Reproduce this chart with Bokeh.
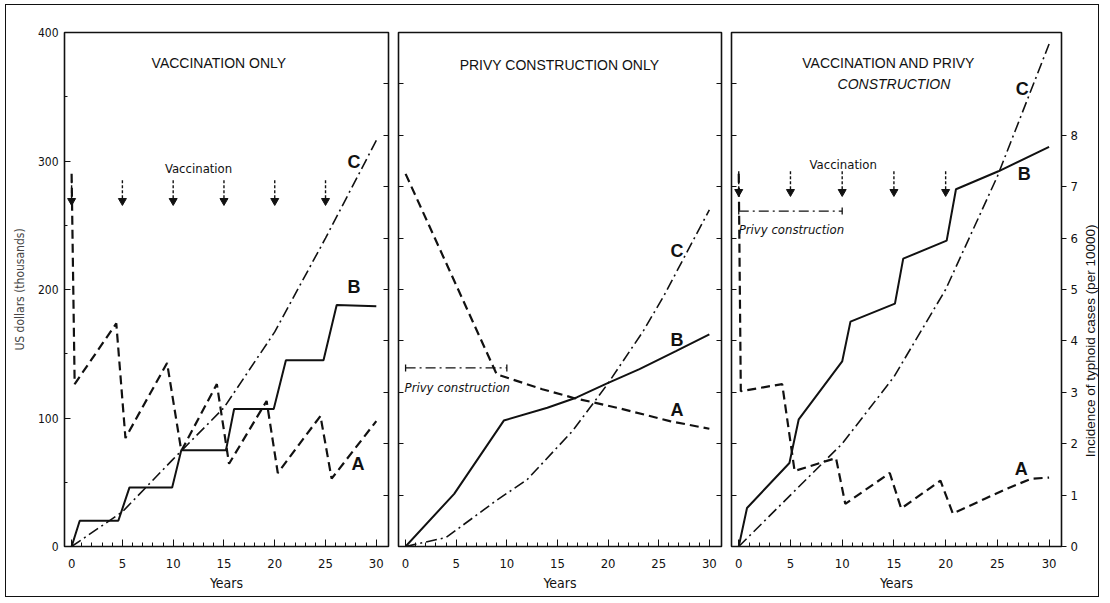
from bokeh.plotting import figure
from bokeh.layouts import row
from bokeh.models import Range1d, LinearAxis, FixedTicker, CustomJSTickFormatter, Label
from bokeh.embed import file_html
from bokeh.resources import INLINE
import math

# ---------------- data ----------------
year_ticks = [0, 5, 10, 15, 20, 25, 30]
dollar_ticks = [0, 100, 200, 300, 400]
incidence_ticks = [0, 1, 2, 3, 4, 5, 6, 7, 8]

# Panel 1: vaccination only
vac_A_x = [0, 0.3, 4.4, 5.3, 9.4, 10.8, 14.3, 15.5, 19.2, 20.3, 24.5, 25.6, 30]
vac_A_y = [7.25, 3.16, 4.34, 2.11, 3.57, 1.86, 3.16, 1.61, 2.83, 1.43, 2.54, 1.32, 2.44]
vac_B_x = [0, 0.8, 4.6, 5.7, 9.9, 10.8, 15.2, 16.0, 19.9, 21.1, 24.8, 26.1, 30]
vac_B_y = [0, 20, 20, 46, 46, 75, 75, 107, 107, 145, 145, 188, 187]
vac_C_x = [0, 5, 10, 15, 20, 25, 30]
vac_C_y = [0, 27, 68, 108, 167, 240, 316]
vac_years = [0, 5, 10, 15, 20, 25]

# Panel 2: privy construction only
prv_A_x = [0, 9.0, 13.5, 16.6, 21.1, 26.1, 30]
prv_A_y = [7.25, 3.35, 3.06, 2.89, 2.69, 2.44, 2.29]
prv_B_x = [0, 4.8, 9.7, 14.0, 16.9, 19.9, 23.1, 26.7, 30]
prv_B_y = [0, 41, 98, 108, 116, 127, 138, 152, 165]
prv_C_x = [0, 4, 9, 12, 16.5, 20, 23.5, 25.5, 30]
prv_C_y = [0, 7, 36, 52, 90, 127, 168, 195, 262]
privy_years = [0, 10]

# Panel 3: vaccination and privy construction
cmb_A_x = [0, 0.2, 4.2, 5.4, 8.6, 9.4, 10.3, 14.6, 15.7, 19.5, 20.7, 23.8, 26.1, 28.3, 30]
cmb_A_y = [7.25, 3.02, 3.16, 1.47, 1.67, 1.72, 0.83, 1.43, 0.74, 1.28, 0.64, 0.93, 1.14, 1.32, 1.34]
cmb_B_x = [0, 0.8, 4.9, 5.8, 10.0, 10.8, 15.1, 15.9, 20.1, 21.0, 25.1, 30]
cmb_B_y = [0, 30, 65, 99, 144, 175, 189, 224, 238, 278, 292, 311]
cmb_C_x = [0, 5, 10, 15, 20, 25, 30]
cmb_C_y = [0, 40, 80, 132, 200, 288, 391]
cmb_vac_years = [0, 5, 10, 15, 20]

# ---------------- styles ----------------
INK = "#111111"
AXFONT = "'Liberation Sans Narrow', 'DejaVu Sans Condensed', 'Roboto Condensed', 'Liberation Sans'"
TFONT = "Liberation Sans"
LETTER = "Liberation Sans"
DASH_A = "9 5"
DASHDOT_C = "11 4 2 4"


def make_fig(frame_w, left, right):
    p = figure(frame_width=frame_w, frame_height=514,
               x_range=Range1d(-0.7, 31.2), y_range=Range1d(0, 400),
               x_axis_location=None, y_axis_location=None,
               min_border_left=left, min_border_right=right,
               min_border_top=27, min_border_bottom=50,
               output_backend="svg", toolbar_location=None, tools="")
    p.extra_y_ranges = {"inc": Range1d(0, 10)}
    p.xgrid.visible = False
    p.ygrid.visible = False
    p.outline_line_color = INK
    p.outline_line_width = 1.6
    p.background_fill_color = "white"
    p.border_fill_color = "white"
    xa = LinearAxis(ticker=FixedTicker(ticks=year_ticks, minor_ticks=list(range(0, 31))),
                    axis_label="Years")
    xa.major_tick_in = 7
    xa.major_tick_out = 0
    xa.minor_tick_in = 4
    xa.minor_tick_out = 0
    xa.axis_line_color = INK
    xa.major_tick_line_color = INK
    xa.minor_tick_line_color = INK
    xa.major_label_standoff = 12
    xa.major_label_text_font = AXFONT
    xa.major_label_text_font_size = "13px"
    xa.major_label_text_color = INK
    xa.axis_label_text_font = AXFONT
    xa.axis_label_text_font_size = "14px"
    xa.axis_label_text_font_style = "normal"
    xa.axis_label_text_color = INK
    xa.axis_label_standoff = 4
    p.add_layout(xa, "below")
    return p


def hidden_inc_axis(p, side):
    ax = LinearAxis(y_range_name="inc", ticker=FixedTicker(ticks=list(range(0, 11))),
                    formatter=CustomJSTickFormatter(code="return ''"))
    ax.major_tick_in = 5
    ax.major_tick_out = 0
    ax.minor_tick_in = 0
    ax.minor_tick_out = 0
    ax.major_label_standoff = 0
    ax.axis_line_color = INK
    ax.major_tick_line_color = INK
    p.add_layout(ax, side)


def draw_curves(p, ax_, ay_, bx_, by_, cx_, cy_):
    p.line(ax_, ay_, y_range_name="inc", line_color=INK, line_width=2.2, line_dash=DASH_A)
    p.line(bx_, by_, line_color=INK, line_width=2.0)
    p.line(cx_, cy_, line_color=INK, line_width=1.6, line_dash=DASHDOT_C)


def letter(p, txt, x, y):
    p.add_layout(Label(x=x, y=y, text=txt, text_font=LETTER, text_font_style="bold",
                       text_font_size="18px", text_color=INK, text_align="center",
                       text_baseline="middle"))


def note(p, txt, x, y, size="13px", align="center", style="normal", font=AXFONT, angle=0):
    p.add_layout(Label(x=x, y=y, text=txt, text_font=font, text_font_size=size,
                       text_color=INK, text_align=align, text_baseline="middle",
                       text_font_style=style, angle=angle))


def vacc_arrows(p, yrs, top, tip):
    p.segment(x0=yrs, y0=[top] * len(yrs), x1=yrs, y1=[tip + 4] * len(yrs),
              line_color=INK, line_width=1.4, line_dash="3 2")
    p.scatter(x=yrs, y=[tip + 4] * len(yrs), marker="inverted_triangle", size=8,
              fill_color=INK, line_color=INK)


def privy_bar(p, yrs, y):
    p.segment(x0=[yrs[0]], y0=[y], x1=[yrs[1]], y1=[y], line_color=INK, line_width=1.3,
              line_dash="10 4 2 4")
    p.scatter(x=yrs, y=[y, y], marker="dash", angle=math.pi / 2, size=7,
              line_color=INK, line_width=1.3)


# ---------------- panel 1 ----------------
p1 = make_fig(324, 58, 5)
ya = LinearAxis(ticker=FixedTicker(ticks=dollar_ticks, minor_ticks=list(range(0, 401, 50))),
                axis_label="US dollars (thousands)")
ya.major_tick_in = 6
ya.major_tick_out = 0
ya.minor_tick_in = 3
ya.minor_tick_out = 0
ya.axis_line_color = INK
ya.major_tick_line_color = INK
ya.minor_tick_line_color = INK
ya.major_label_text_font = AXFONT
ya.major_label_text_font_size = "12px"
ya.major_label_text_color = INK
ya.major_label_standoff = 6
ya.axis_label_text_font = AXFONT
ya.axis_label_text_font_size = "12px"
ya.axis_label_text_font_style = "normal"
ya.axis_label_text_color = "#444444"
ya.axis_label_standoff = 8
p1.add_layout(ya, "left")
hidden_inc_axis(p1, "right")
draw_curves(p1, vac_A_x, vac_A_y, vac_B_x, vac_B_y, vac_C_x, vac_C_y)
vacc_arrows(p1, vac_years, 285, 265)
note(p1, "VACCINATION ONLY", 14.5, 376, size="14px", font=TFONT)
note(p1, "Vaccination", 12.5, 294, size="13px")
letter(p1, "C", 27.8, 299)
letter(p1, "B", 27.8, 202)
letter(p1, "A", 28.2, 64)

# ---------------- panel 2 ----------------
p2 = make_fig(323, 5, 5)
hidden_inc_axis(p2, "left")
hidden_inc_axis(p2, "right")
draw_curves(p2, prv_A_x, prv_A_y, prv_B_x, prv_B_y, prv_C_x, prv_C_y)
privy_bar(p2, privy_years, 139)
note(p2, "Privy construction", -0.1, 124, size="13px", align="left", style="italic")
note(p2, "PRIVY CONSTRUCTION ONLY", 15.2, 375, size="14px", font=TFONT)
letter(p2, "C", 26.8, 230)
letter(p2, "B", 26.8, 161)
letter(p2, "A", 26.8, 106)

# ---------------- panel 3 ----------------
p3 = make_fig(330, 5, 20)
hidden_inc_axis(p3, "left")
ra = LinearAxis(y_range_name="inc", ticker=FixedTicker(ticks=incidence_ticks))
ra.major_tick_in = 0
ra.major_tick_out = 5
ra.minor_tick_in = 0
ra.minor_tick_out = 0
ra.axis_line_color = INK
ra.major_tick_line_color = INK
ra.major_label_text_font = AXFONT
ra.major_label_text_font_size = "13px"
ra.major_label_text_color = INK
ra.major_label_standoff = 4
p3.add_layout(ra, "right")
draw_curves(p3, cmb_A_x, cmb_A_y, cmb_B_x, cmb_B_y, cmb_C_x, cmb_C_y)
vacc_arrows(p3, cmb_vac_years, 292, 272)
privy_bar(p3, privy_years, 261)
note(p3, "Privy construction", 0.0, 247, size="13px", align="left", style="italic")
note(p3, "Vaccination", 10.1, 297, size="13px")
note(p3, "VACCINATION AND PRIVY", 14.5, 376, size="14px", font=TFONT)
note(p3, "CONSTRUCTION", 15.0, 360, size="14px", font=TFONT, style="italic")
letter(p3, "C", 27.4, 356)
letter(p3, "B", 27.6, 290)
letter(p3, "A", 27.3, 60)

# ---------------- right-hand axis title strip ----------------
p4 = figure(frame_width=17, frame_height=514, x_range=Range1d(0, 1), y_range=Range1d(0, 400),
            x_axis_location=None, y_axis_location=None,
            min_border_left=0, min_border_right=0, min_border_top=27, min_border_bottom=50,
            output_backend="svg", toolbar_location=None, tools="")
p4.xgrid.visible = False
p4.ygrid.visible = False
p4.outline_line_color = None
p4.background_fill_color = "white"
p4.border_fill_color = "white"
note(p4, "Incidence of typhoid cases (per 10000)", 0.5, 160, size="13.5px",
     font=TFONT, angle=math.pi / 2)

layout = row(p1, p2, p3, p4, spacing=0,
             styles={"border": "1px solid #111111", "margin": "4px 0px 0px 5px"})
open("out.html", "w").write(file_html(layout, INLINE))
